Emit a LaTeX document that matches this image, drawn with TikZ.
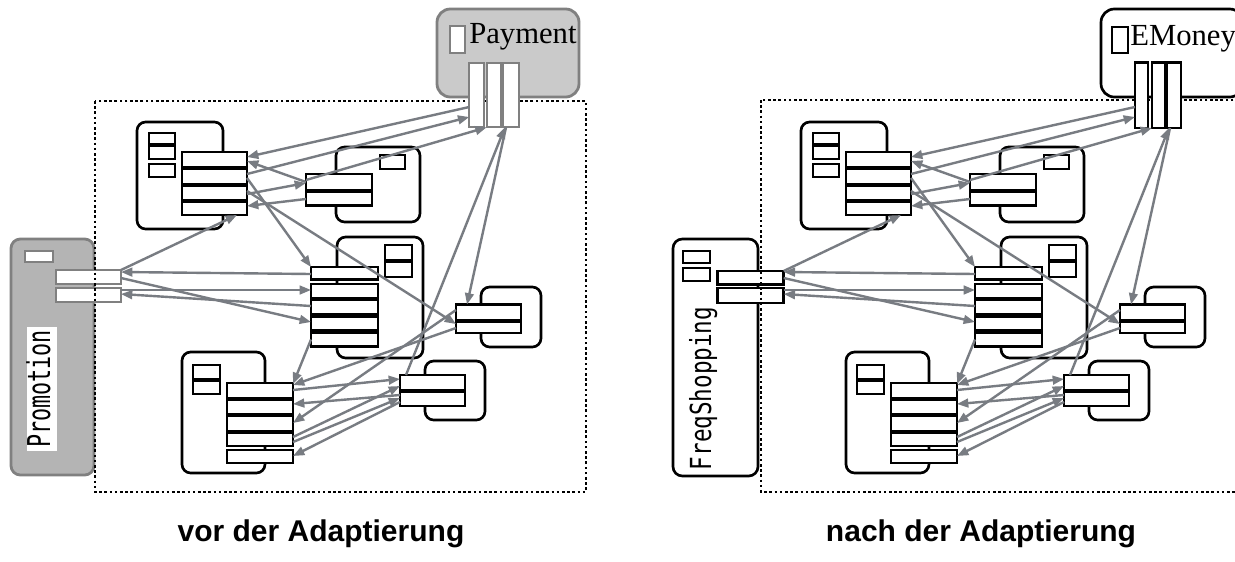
\documentclass[tikz,border=0pt]{standalone}
\usepackage{fontspec}
\setmainfont{Liberation Serif}
\newfontfamily\labelsans{Liberation Sans}
\newfontfamily\pixmono{DejaVu Sans Mono}
\usetikzlibrary{fit,arrows.meta}

\definecolor{wire}{RGB}{120,124,130}
\definecolor{extline}{RGB}{128,128,128}
\definecolor{payfill}{RGB}{202,202,202}
\definecolor{promofill}{RGB}{180,180,180}

\tikzset{
  pxgrid/.style={x=0.75pt,y=-0.75pt},
  comp/.style={draw=black,line width=2pt,fill=white,rounded corners=6.5pt,inner sep=0pt,outer sep=0pt},
  port/.style={draw=black,line width=1.9pt,fill=white,inner sep=0pt,outer sep=0pt},
  gport/.style={port,draw=extline,line width=1.4pt},
  promobox/.style={draw=extline,fill=promofill,line width=2.1pt,rounded corners=7pt,inner sep=0pt,outer sep=0pt},
  paybox/.style={draw=extline,fill=payfill,line width=2.1pt,rounded corners=10pt,inner sep=0pt,outer sep=0pt},
  plainext/.style={draw=black,fill=white,line width=2pt,rounded corners=7pt,inner sep=0pt,outer sep=0pt},
  plainpay/.style={plainext,rounded corners=10pt},
  payname/.style={anchor=base west,inner sep=0pt,font=\fontsize{23pt}{27pt}\selectfont},
  pixlabel/.style={rotate=90,anchor=base,inner sep=0pt},
  caption/.style={anchor=base,inner sep=0pt,font=\labelsans\bfseries\fontsize{22.5pt}{27pt}\selectfont},
  wirearr/.style={draw=wire,line width=1.8pt,-{Triangle[length=8.5pt,width=6.5pt]}},
  boundary/.style={draw=black,line width=2.2pt,dash pattern=on 2pt off 1.9pt},
}

% rectangle node spanned by two corners: style, name, x1, y1, x2, y2
\newcommand{\rectnode}[6]{\node[#1,fit={(#3,#4) (#5,#6)}] (#2) {};}

% the six internal components and their wiring
\newcommand{\innersystem}{%
  % component A
  \rectnode{comp}{A}{137}{122}{223}{229}
  \rectnode{port}{As1}{149}{133}{175}{144}
  \rectnode{port}{As2}{149}{146}{175}{159}
  \rectnode{port}{As3}{149}{164}{175}{177}
  \rectnode{port}{A1}{182}{152}{247}{167}
  \rectnode{port}{A2}{182}{169}{247}{184}
  \rectnode{port}{A3}{182}{186}{247}{200}
  \rectnode{port}{A4}{182}{202}{247}{215}
  % component B
  \rectnode{comp}{B}{336}{147}{420}{222}
  \rectnode{port}{Bs1}{380}{155}{405}{169}
  \rectnode{port}{B1}{306}{174}{372}{190}
  \rectnode{port}{B2}{306}{192}{372}{205.5}
  % component C
  \rectnode{comp}{C}{337}{237}{423}{358}
  \rectnode{port}{Cs1}{385}{245}{412}{260}
  \rectnode{port}{Cs2}{385}{261.5}{412}{277}
  \rectnode{port}{C1}{311}{267}{378}{279.5}
  \rectnode{port}{C2}{311}{284}{378}{298}
  \rectnode{port}{C3}{311}{300}{378}{314.5}
  \rectnode{port}{C4}{311}{316.5}{378}{330.5}
  \rectnode{port}{C5}{311}{332.5}{378}{346.5}
  % component D
  \rectnode{comp}{D}{481}{287}{541}{347}
  \rectnode{port}{D1}{456}{304.5}{521}{320}
  \rectnode{port}{D2}{456}{322}{521}{333}
  % component E
  \rectnode{comp}{E}{425}{361}{485}{420}
  \rectnode{port}{E1}{400}{375}{465}{390}
  \rectnode{port}{E2}{400}{392}{465}{406}
  % component F
  \rectnode{comp}{F}{182}{352}{265}{473}
  \rectnode{port}{Fs1}{193}{365}{220}{379}
  \rectnode{port}{Fs2}{193}{381}{220}{394}
  \rectnode{port}{F1}{227}{383}{293}{398}
  \rectnode{port}{F2}{227}{400}{293}{414}
  \rectnode{port}{F3}{227}{416}{293}{431}
  \rectnode{port}{F4}{227}{433}{293}{446}
  \rectnode{port}{F5}{227}{450}{293}{463}
  % connectors
  \draw[wirearr] (PAY1.west |- 0,107) -- (A1.east |- 0,157);
  \draw[wirearr] (A2.east |- 0,174) -- (PAY1.west |- 0,117);
  \draw[wirearr] (B1.west |- 0,180) -- (PAY2.south west);
  \draw[wirearr] (B1.west |- 0,182) -- (A1.east |- 0,161);
  \draw[wirearr] (A3.east |- 0,194) -- (B1.west |- 0,183);
  \draw[wirearr] (B2.west |- 0,199) -- (A4.east |- 0,206);
  \draw[wirearr] (A2.east |- 0,178) -- (C1.north west);
  \draw[wirearr] (A3.east |- 0,191) -- (D2.west |- 0,324);
  \draw[wirearr] (PAY3.south -| 506,0) -- (D1.north -| 467,0);
  \draw[wirearr] (E1.north -| 406,0) -- (PAY3.south -| 505,0);
  \draw[wirearr] (EXT1.north east) -- (A4.south -| 237,0);
  \draw[wirearr] (C1.west |- 0,274) -- (EXT1.east |- 0,272);
  \draw[wirearr] (EXT1.east |- 0,278) -- (C4.west |- 0,322);
  \draw[wirearr] (EXT2.east |- 0,290) -- (C2.west |- 0,290);
  \draw[wirearr] (C3.west |- 0,306) -- (EXT2.east |- 0,294);
  \draw[wirearr] (C5.west) -- (F1.east |- 0,384);
  \draw[wirearr] (D2.west |- 0,328) -- (F1.east |- 0,385);
  \draw[wirearr] (D1.west |- 0,310) -- (F3.east |- 0,423);
  \draw[wirearr] (F1.east |- 0,390) -- (E1.west |- 0,379);
  \draw[wirearr] (E2.west |- 0,395) -- (F2.east |- 0,404);
  \draw[wirearr] (F4.east |- 0,437) -- (E1.west |- 0,386);
  \draw[wirearr] (F4.east |- 0,442) -- (E2.west |- 0,398);
  \draw[wirearr] (E2.west |- 0,402) -- (F5.east |- 0,456);
}

\begin{document}
\begin{tikzpicture}[pxgrid]
\clip (0,0) rectangle (1235,561);
\fill[white] (0,0) rectangle (1235,561);

% ---------- system before adaptation ----------
\begin{scope}[name prefix=L-]
  \rectnode{promobox}{EXTBOX}{11}{239}{94}{475}
  \rectnode{gport}{EXTs1}{25}{251}{53}{262}
  \rectnode{gport}{EXT1}{55.7}{270}{121}{284.3}
  \rectnode{gport}{EXT2}{55.7}{287.7}{121}{301.7}
  \fill[white] (27,327) rectangle (57,451);
  \node[pixlabel,font=\pixmono\fontsize{23.6pt}{28pt}\selectfont] (EXTNAME) at (50,389) {\scalebox{0.69}[1]{Promotion}};
  \draw[boundary] (95,101) rectangle (586,492);
  \rectnode{paybox}{PAYBOX}{437}{9}{579}{97}
  \rectnode{gport}{PAYICON}{450}{26}{465}{53}
  \node[payname] (PAYNAME) at (469,43) {Payment};
  \rectnode{gport}{PAY1}{469.3}{62.7}{484}{127.3}
  \rectnode{gport}{PAY2}{486.7}{62.7}{500.7}{127.3}
  \rectnode{gport}{PAY3}{503.3}{62.7}{518.7}{127.3}
  \innersystem
\end{scope}

% ---------- system after adaptation ----------
\begin{scope}[shift={(664,0)},name prefix=R-]
  \rectnode{plainext}{EXTBOX}{9}{239}{94}{476}
  \rectnode{port}{EXTs1}{19}{251}{46}{263}
  \rectnode{port}{EXTs2}{19}{268}{46}{281}
  \rectnode{port}{EXT1}{53.6}{271}{119.7}{284.7}
  \rectnode{port}{EXT2}{53.6}{288}{119.7}{303}
  \node[pixlabel,font=\pixmono\fontsize{21.75pt}{26pt}\selectfont] (EXTNAME) at (47,388.5) {\scalebox{0.78}[1]{FreqShopping}};
  \draw[boundary] (97,100) rectangle (586,492);
  \rectnode{plainpay}{PAYBOX}{437}{9}{579}{97}
  \rectnode{port}{PAYICON}{448}{27}{464}{53}
  \node[payname] (PAYNAME) at (466,45) {EMoney};
  \rectnode{port}{PAY1}{471}{62.7}{484}{128}
  \rectnode{port}{PAY2}{488}{62.7}{501}{128}
  \rectnode{port}{PAY3}{503}{62.7}{517}{128}
  \innersystem
\end{scope}

% ---------- captions ----------
\node[caption] (capbefore) at (321,541) {vor der Adaptierung};
\node[caption] (capafter) at (981,541) {nach der Adaptierung};
\end{tikzpicture}
\end{document}
